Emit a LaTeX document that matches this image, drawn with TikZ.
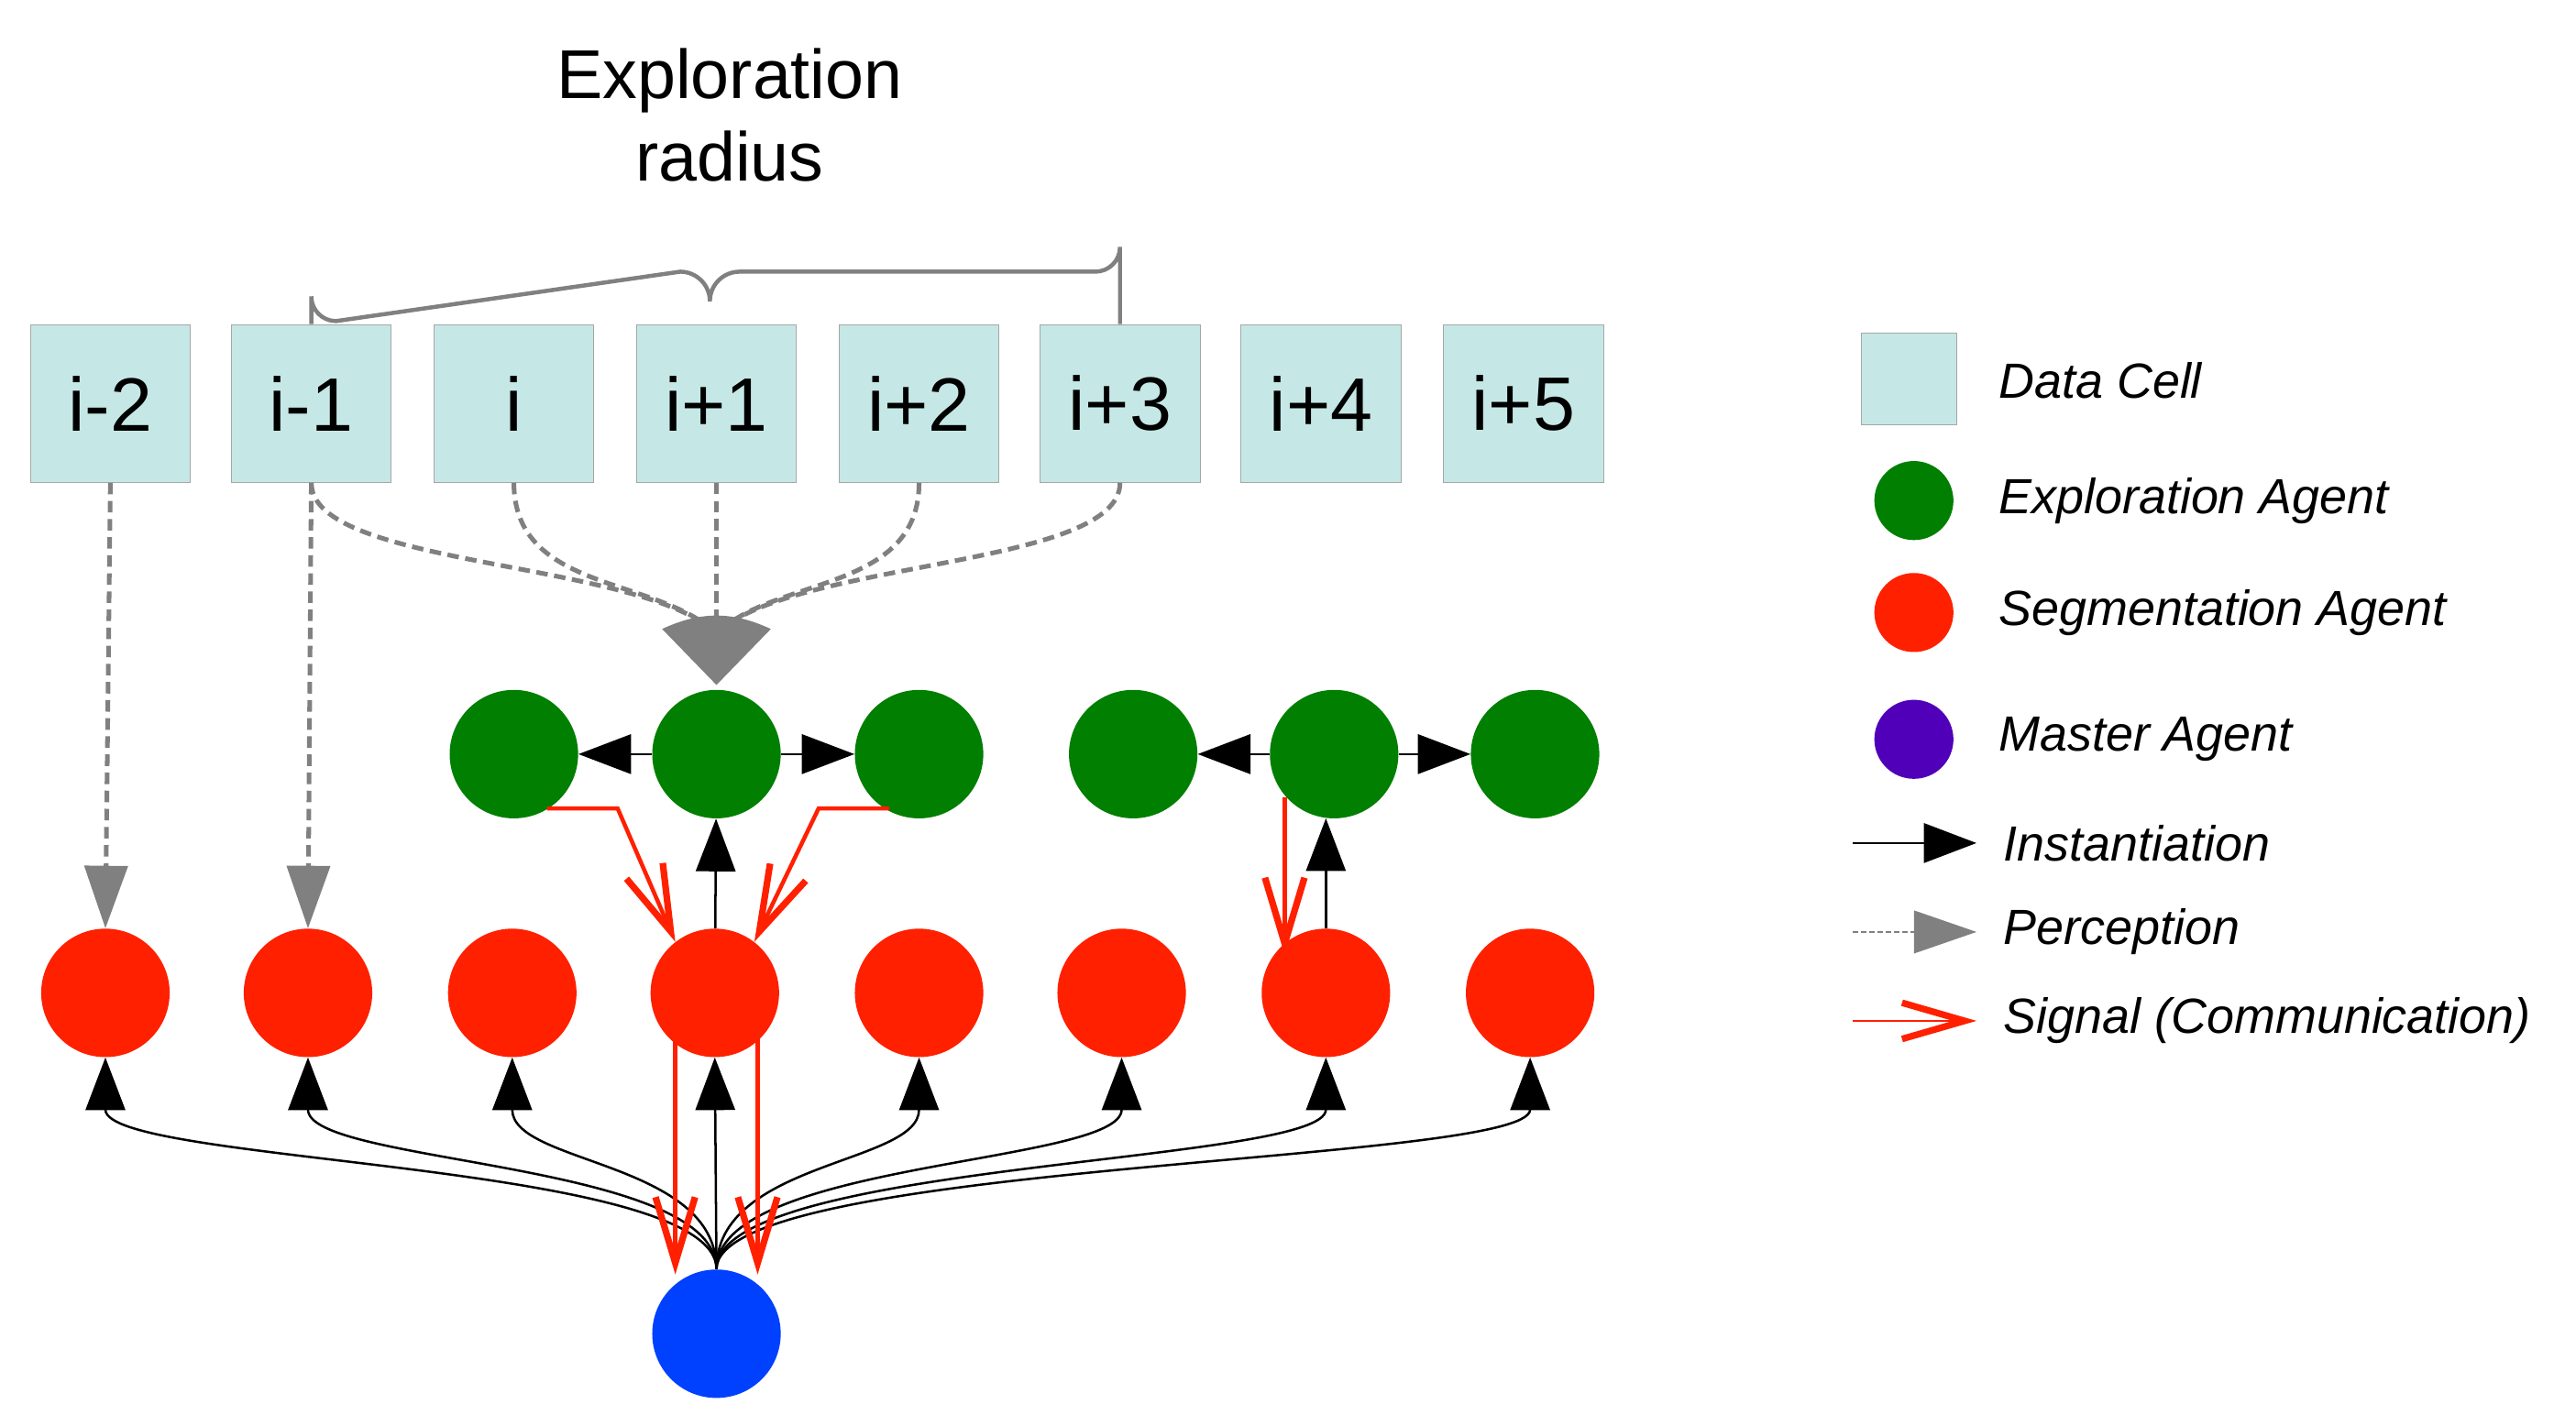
\documentclass[tikz,border=0pt]{standalone}
\usepackage{fontspec}
\setmainfont{Liberation Sans}
\usetikzlibrary{arrows.meta,calc}
\definecolor{cellc}{HTML}{C5E8E6}
\definecolor{grn}{HTML}{007F00}
\definecolor{rd}{HTML}{FF2000}
\definecolor{bl}{HTML}{0040FF}
\definecolor{pur}{HTML}{5000B8}
\begin{document}
\begin{tikzpicture}[x=1pt,y=-1pt,
  cell/.style={draw=gray!70,fill=cellc,minimum width=97pt,minimum height=96pt,inner sep=0,font=\fontsize{46}{50}\selectfont},
  ag/.style={circle,minimum size=78pt,inner sep=0},
  ea/.style={ag,fill=grn}, sa/.style={ag,fill=rd}, ma/.style={ag,fill=bl},
  inst/.style={line width=1.4pt,-{Triangle[length=32pt,width=24pt]}},
  perc/.style={gray,line width=2.8pt,dash pattern=on 7pt off 4pt},
  sig/.style={rd,line width=2.5pt,-{Straight Barb[length=40pt,width=24pt,line width=4pt]}},
  leg/.style={anchor=west,font=\fontsize{30}{34}\selectfont\itshape}]
\useasboundingbox (0,0) rectangle (1564,859);
% title and brace
\node[font=\fontsize{42}{50}\selectfont,align=center] (t) at (443,70) {Exploration\\radius};
\foreach \n/\x/\l in {c1/67/i-2,c2/189/i-1,c3/312/i,c4/435/i+1,c5/558/i+2,c6/680/i+3,c7/802/i+4,c8/925/i+5}
  \node[cell] (\n) at (\x,245) {\l};
\draw[gray,line width=2.5pt] (c2.north) -- (189,180) arc[start angle=180,end angle=90,radius=15] -- (413,165) arc[start angle=270,end angle=360,radius=18] arc[start angle=180,end angle=270,radius=18] -- (665,165) arc[start angle=90,end angle=0,radius=15] -- (c6.north);
% agents
\foreach \n/\x in {g1/312,g2/435,g3/558,g4/688,g5/810,g6/932} \node[ea] (\n) at (\x,458) {};
\foreach \n/\x in {r1/64,r2/187,r3/311,r4/434,r5/558,r6/681,r7/805,r8/929} \node[sa] (\n) at (\x,603) {};
\node[ma] (m) at (435,810) {};
% perception
\coordinate (p) at (435,385);
\draw[perc] (c2.south) .. controls (189,345) and (390,340) .. (p);
\draw[perc] (c3.south) .. controls (312,360) and (400,350) .. (p);
\draw[perc] (c4.south) -- (p);
\draw[perc] (c5.south) .. controls (558,360) and (470,350) .. (p);
\draw[perc] (c6.south) .. controls (680,345) and (480,340) .. (p);
\fill[gray] (435,416) -- (402,382) to[bend left=25] (468,382) -- cycle;
\draw[perc,-{Triangle[length=38pt,width=26pt,fill=gray]}] (c1.south) -- (r1.north);
\draw[perc,-{Triangle[length=38pt,width=26pt,fill=gray]}] (c2.south) -- (r2.north);
% instantiation
\draw[inst] (g2) -- (g1); \draw[inst] (g2) -- (g3);
\draw[inst] (g5) -- (g4); \draw[inst] (g5) -- (g6);
\draw[inst] (r4) -- (g2);
\draw[inst] (r7.north) -- (805,497);
\foreach \r in {r1,r2,r3,r5,r6,r7,r8}
  \draw[inst] (m.north) .. controls (435,705) and ($(\r.south)+(0,65)$) .. (\r.south);
\draw[inst] (m.north) -- (r4.south);
% signals
\coordinate (s1) at (332,491); \coordinate (s2) at (540,491);
\draw[sig] (s1) -- (375,491) -- (410,572);
\draw[sig] (s2) -- (497,491) -- (458,572);
\draw[sig] (780,484) -- (780,580);
\draw[sig] (410,610) -- (410,774);
\draw[sig] (460,610) -- (460,774);
% legend
\node[draw=gray!70,fill=cellc,minimum width=58pt,minimum height=56pt,inner sep=0] (l1) at (1159,230) {};
\node[leg] (t1) at (1210,231) {Data Cell};
\node[circle,fill=grn,minimum size=48pt,inner sep=0] (l2) at (1162,304) {};
\node[leg] (t2) at (1210,304) {Exploration Agent};
\node[circle,fill=rd,minimum size=48pt,inner sep=0] (l3) at (1162,372) {};
\node[leg] (t3) at (1210,372) {Segmentation Agent};
\node[circle,fill=pur,minimum size=48pt,inner sep=0] (l4) at (1162,449) {};
\node[leg] (t4) at (1210,449) {Master Agent};
\coordinate (a1) at (1125,512); \coordinate (b1) at (1200,512);
\draw[inst] (a1) -- (b1); \node[leg] (t5) at (1213,512) {Instantiation};
\coordinate (a2) at (1125,566); \coordinate (b2) at (1200,566);
\draw[gray,line width=1pt,dash pattern=on 3pt off 2pt,-{Triangle[length=38pt,width=26pt,fill=gray]}] (a2) -- (b2);
\node[leg] (t6) at (1213,566) {Perception};
\coordinate (a3) at (1125,620); \coordinate (b3) at (1200,620);
\draw[rd,line width=1.5pt,-{Straight Barb[length=38pt,width=22pt,line width=4pt]}] (a3) -- (b3);
\node[leg] (t7) at (1213,620) {Signal (Communication)};
\end{tikzpicture}
\end{document}
